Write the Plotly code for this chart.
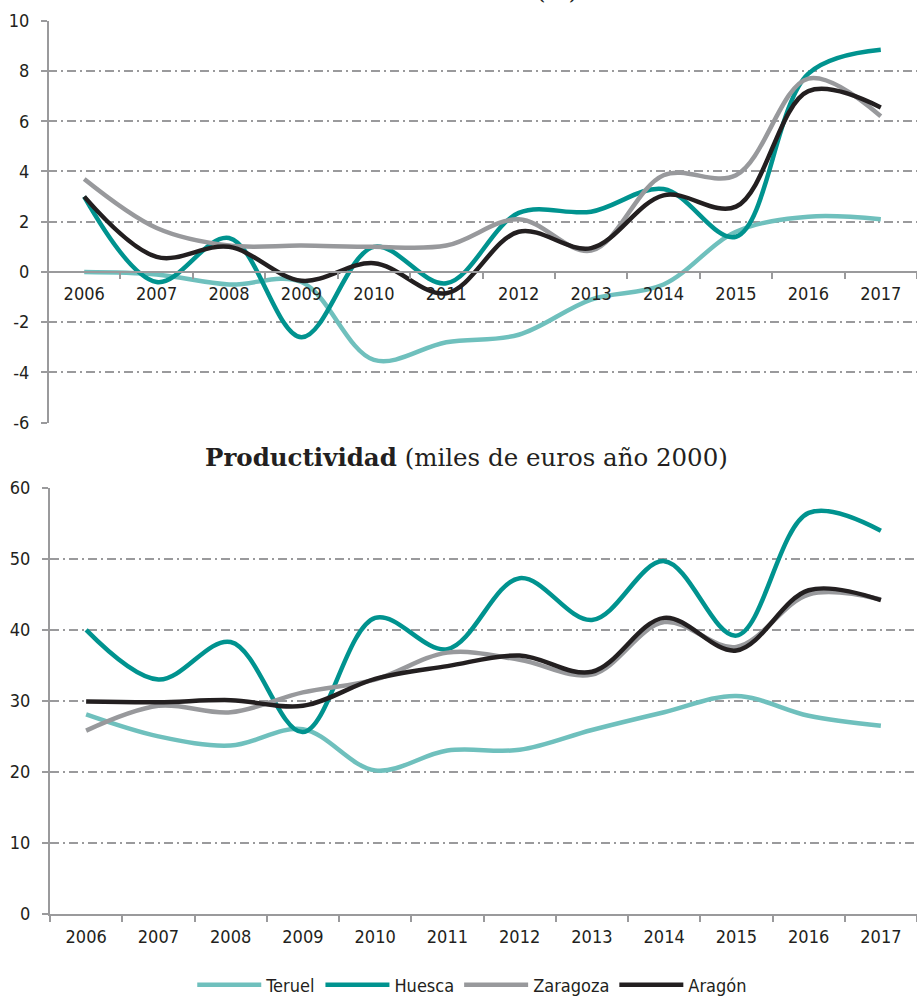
import plotly.graph_objects as go

years = [str(y) for y in range(2006, 2018)]

# top panel, growth (%)
teruel_pct = [0.0, -0.1, -0.5, -0.4, -3.5, -2.8, -2.5, -1.1, -0.5, 1.6, 2.2, 2.1]
huesca_pct = [3.0, -0.4, 1.35, -2.6, 1.0, -0.45, 2.35, 2.4, 3.3, 1.4, 7.9, 8.85]
zaragoza_pct = [3.7, 1.75, 1.05, 1.05, 1.0, 1.05, 2.1, 0.85, 3.85, 3.85, 7.7, 6.2]
aragon_pct = [3.0, 0.6, 1.0, -0.35, 0.35, -0.85, 1.6, 0.95, 3.05, 2.6, 7.2, 6.55]

# bottom panel, productividad (miles de euros año 2000)
teruel_prod = [28.1, 25.0, 23.7, 26.0, 20.2, 23.0, 23.1, 25.9, 28.4, 30.7, 27.9, 26.5]
huesca_prod = [40.0, 33.0, 38.3, 25.6, 41.7, 37.3, 47.3, 41.4, 49.7, 39.2, 56.5, 54.0]
zaragoza_prod = [25.8, 29.3, 28.4, 31.2, 33.0, 36.8, 35.8, 33.7, 41.1, 37.6, 45.0, 44.3]
aragon_prod = [29.9, 29.8, 30.1, 29.3, 33.1, 34.9, 36.4, 34.1, 41.7, 37.1, 45.6, 44.2]

top_ticks = [-6, -4, -2, 0, 2, 4, 6, 8, 10]
bottom_ticks = [0, 10, 20, 30, 40, 50, 60]

names = ["Teruel", "Huesca", "Zaragoza", "Aragón"]
colors = ["#6fc0bd", "#00938f", "#98999c", "#231f20"]

W, H = 917, 1004
sans = "Liberation Sans Narrow, DejaVu Sans Condensed, sans-serif"
serif = "DejaVu Serif, Liberation Serif, serif"
tick_font = dict(family=sans, size=18, color="#231f20")
grid_col = "#9a9a9c"
dash = "9px,4px,2px,4px"

fig = go.Figure()

top = [teruel_pct, huesca_pct, zaragoza_pct, aragon_pct]
bottom = [teruel_prod, huesca_prod, zaragoza_prod, aragon_prod]

for name, col, vals in zip(names, colors, top):
    fig.add_trace(go.Scatter(x=years, y=vals, mode="lines", name=name, showlegend=False,
                             line=dict(color=col, width=4.5, shape="spline", smoothing=1.0),
                             xaxis="x", yaxis="y"))
for name, col, vals in zip(names, colors, bottom):
    fig.add_trace(go.Scatter(x=years, y=vals, mode="lines", name=name,
                             line=dict(color=col, width=4.5, shape="spline", smoothing=1.0),
                             xaxis="x2", yaxis="y2"))

def py(px):
    return (H - px) / H

ax_common = dict(type="category", range=[-0.5, 11.5], showline=True, linecolor=grid_col, linewidth=2,
                 ticks="outside", tickson="boundaries", ticklen=6, tickcolor=grid_col, tickwidth=2,
                 ticklabelstandoff=6, showgrid=False, tickfont=tick_font, automargin=False,
                 zeroline=False, fixedrange=True)
ay_common = dict(showline=True, linecolor=grid_col, linewidth=2, ticks="outside", ticklen=6,
                 tickcolor=grid_col, tickwidth=2, showgrid=True, gridcolor=grid_col, gridwidth=1.5,
                 griddash=dash, tickfont=tick_font, automargin=False, zeroline=False,
                 ticklabelstandoff=8, fixedrange=True)

fig.update_layout(
    width=W, height=H,
    template="none",
    paper_bgcolor="white", plot_bgcolor="white",
    margin=dict(l=0, r=0, t=0, b=0),
    xaxis=dict(ax_common, domain=[48 / W, 1], anchor="free", position=py(274)),
    yaxis=dict(ay_common, domain=[py(426), py(21)], range=[-6, 10],
               tickvals=top_ticks, ticktext=[str(v) for v in top_ticks], anchor="free", position=48 / W),
    xaxis2=dict(ax_common, domain=[50 / W, 1], anchor="y2"),
    yaxis2=dict(ay_common, domain=[py(921), py(492)], range=[0, 60],
                tickvals=bottom_ticks, ticktext=[str(v) for v in bottom_ticks], anchor="x2"),
    legend=dict(orientation="h", x=0.515, xanchor="center", y=py(993), yanchor="middle",
                font=dict(family=sans, size=18, color="#231f20"),
                itemwidth=64, tracegroupgap=0, bgcolor="rgba(0,0,0,0)"),
    annotations=[
        dict(text="<b>Productividad</b> (miles de euros año 2000)", x=466 / W, y=py(461),
             xref="paper", yref="paper", xanchor="center", yanchor="middle", showarrow=False,
             font=dict(family=serif, size=24.5, color="#231f20")),
        dict(text="<b>Crecimiento del VAB</b> (%)", x=580 / W, y=py(7),
             xref="paper", yref="paper", xanchor="right", yanchor="bottom", showarrow=False,
             font=dict(family=serif, size=24, color="#231f20")),
    ],
)

page_css = ("document.documentElement.style.margin='0';document.documentElement.style.overflow='hidden';"
            "document.body.style.margin='0';document.body.style.overflow='hidden';")
fig.write_html("out.html", config={"displayModeBar": False}, post_script=page_css)
